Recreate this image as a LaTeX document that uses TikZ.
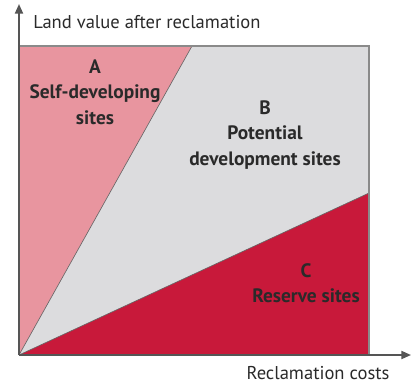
\documentclass[tikz,border=0pt]{standalone}
\usepackage{fontspec}
\setmainfont{PT Sans}
\usepackage{tikz}
\usetikzlibrary{arrows.meta,positioning,calc}
\definecolor{zoneA}{HTML}{E8959F}
\definecolor{zoneB}{HTML}{DCDCDE}
\definecolor{zoneC}{HTML}{C8193A}
\definecolor{axisgray}{HTML}{555555}
\definecolor{framegray}{HTML}{8A8A8A}
\definecolor{labeltext}{HTML}{2A2A2A}
\tikzset{
  axisline/.style={-{Triangle[length=2.4mm,width=2.0mm]},line width=1.3pt,draw=axisgray},
  zoneedge/.style={line width=0.45pt,draw=black!60},
  zonelabel/.style={
    align=center,
    text=labeltext,
    font=\fontsize{13.8}{18.2}\selectfont\bfseries,
    inner sep=1pt
  },
  axislabel/.style={
    text=labeltext,
    font=\fontsize{13.2}{15}\selectfont,
    inner sep=0pt
  }
}
\begin{document}
\begin{tikzpicture}[x=0.025cm,y=0.025cm]
  \useasboundingbox (0,0) rectangle (411,384);
  \coordinate (origin) at (19,29);
  \coordinate (topleft) at (19,338);
  \coordinate (topright) at (369,338);
  \coordinate (botright) at (369,29);
  \coordinate (splitA) at (192,338);
  \coordinate (splitC) at (369,191);
  \coordinate (yend) at (19,380);
  \coordinate (xend) at (411,29);

  % zones
  \fill[zoneB] (origin) -- (splitA) -- (topright) -- (splitC) -- cycle;
  \fill[zoneA] (origin) -- (topleft) -- (splitA) -- cycle;
  \fill[zoneC] (origin) -- (splitC) -- (botright) -- cycle;
  \draw[zoneedge] (origin) -- (splitA);
  \draw[zoneedge] (origin) -- (splitC);
  \draw[line width=1.1pt,draw=framegray] (topleft) -- (topright) -- (botright);

  % axes
  \draw[axisline] (origin) -- (yend);
  \draw[axisline] (origin) -- (xend);

  \node[axislabel,anchor=west] (ylabel) at (33,362) {Land value after reclamation};
  \node[axislabel] (xlabel) at (318,11) {Reclamation costs};

  \node[zonelabel] (labelA) at (95,292) {A\\Self-developing\\sites};
  \node[zonelabel] (labelB) at (265,249) {B\\Potential\\development sites};
  \node[zonelabel] (labelC) at (306,101) {C\\Reserve sites};
\end{tikzpicture}
\end{document}
